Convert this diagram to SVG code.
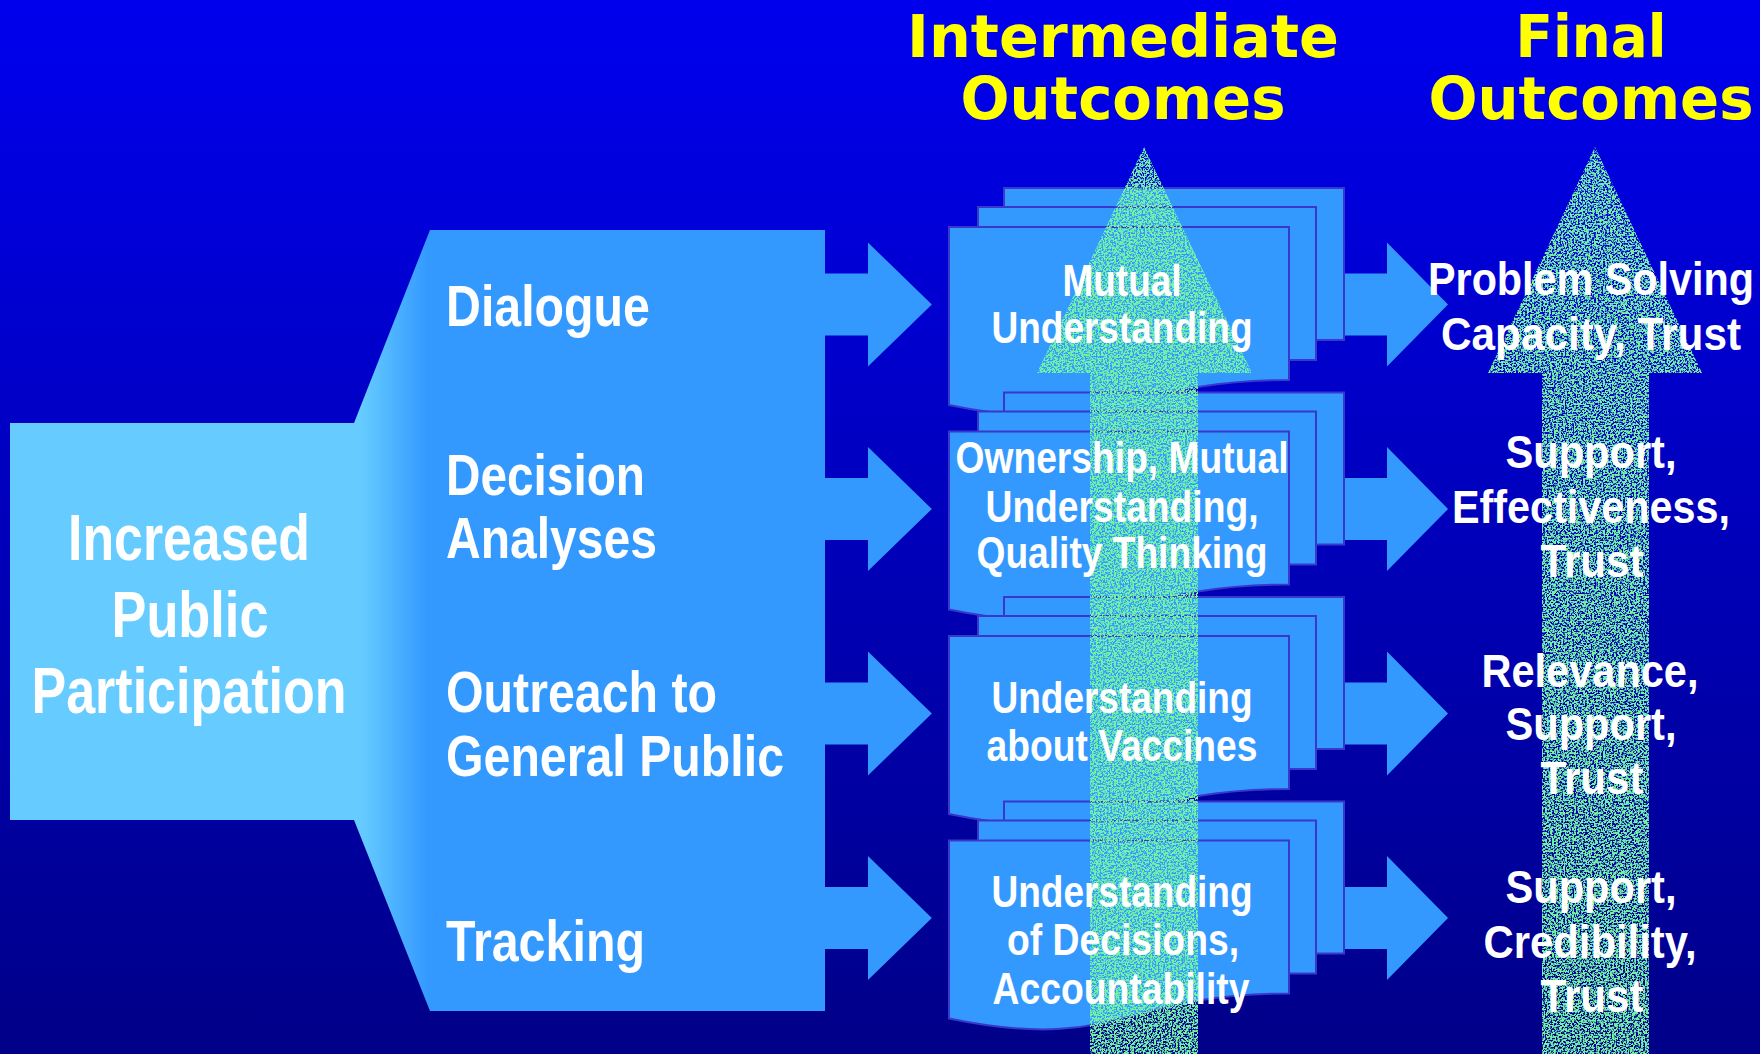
<svg xmlns="http://www.w3.org/2000/svg" width="1760" height="1054" viewBox="0 0 1760 1054">
<defs>
  <linearGradient id="bg" x1="0" y1="0" x2="0" y2="1054" gradientUnits="userSpaceOnUse">
    <stop offset="0" stop-color="#0000EE"/>
    <stop offset="1" stop-color="#000088"/>
  </linearGradient>
  <linearGradient id="mainFill" x1="0" y1="0" x2="1760" y2="0" gradientUnits="userSpaceOnUse">
    <stop offset="0.205" stop-color="#66CCFF"/>
    <stop offset="0.243" stop-color="#3399FF"/>
  </linearGradient>
  <filter id="speckle" x="0" y="0" width="1" height="1" color-interpolation-filters="sRGB">
    <feTurbulence type="fractalNoise" baseFrequency="0.55" numOctaves="2" seed="11" result="n"/>
    <feColorMatrix in="n" type="matrix" values="0 0 0 0 0.45  0 0 0 0 0.95  0 0 0 0 0.65  7 0 0 0 -2.8" result="g"/>
    <feComposite in="g" in2="SourceAlpha" operator="in"/>
  </filter>
  <g id="multidoc">
    <rect x="1004" y="188" width="340" height="152" class="sheet"/>
    <rect x="978" y="207" width="338" height="153" class="sheet"/>
    <path d="M949,227 H1289 V380 C1119,380 1119,440 949,405 Z" class="sheet"/>
  </g>
  <path id="rarrow" d="M0,-31 H42 V-62 L103,0 L42,62 V31 H0 Z"/>
</defs>
<style>
  .sheet { fill:#3399FF; stroke:#3838CC; stroke-width:2; }
  .conn { fill:#3399FF; }
  .t { font-family:"Liberation Sans Narrow","Liberation Sans",Arial,sans-serif; font-weight:bold; fill:#FFFFFF; }
  .title { font-family:"DejaVu Sans",Verdana,sans-serif; font-weight:bold; fill:#FFFF00; font-size:59px; text-anchor:middle; }
  .lft { font-size:64px; text-anchor:middle; }
  .mid { font-size:57px; }
  .doc { font-size:44px; text-anchor:middle; }
  .fin { font-size:46px; text-anchor:middle; }
  .big { fill:#000; filter:url(#speckle); }
</style>

<rect x="0" y="0" width="1760" height="1054" fill="url(#bg)"/>

<g id="titles">
  <text class="title" x="1123" y="57" textLength="432" lengthAdjust="spacingAndGlyphs">Intermediate</text>
  <text class="title" x="1123" y="119" textLength="325" lengthAdjust="spacingAndGlyphs">Outcomes</text>
  <text class="title" x="1591" y="57" textLength="151" lengthAdjust="spacingAndGlyphs">Final</text>
  <text class="title" x="1591" y="119" textLength="325" lengthAdjust="spacingAndGlyphs">Outcomes</text>
</g>

<g id="participation-block">
  <path d="M10,423 H354 L430,230 H825 V1011 H430 L354,820 H10 Z" fill="url(#mainFill)"/>
</g>

<g id="increased-public-participation">
  <text class="t lft" x="189" y="560" textLength="242" lengthAdjust="spacingAndGlyphs">Increased</text>
  <text class="t lft" x="190" y="637" textLength="157" lengthAdjust="spacingAndGlyphs">Public</text>
  <text class="t lft" x="189" y="713" textLength="315" lengthAdjust="spacingAndGlyphs">Participation</text>
</g>

<g id="dialogue">
  <text class="t mid" x="446" y="326" textLength="204" lengthAdjust="spacingAndGlyphs">Dialogue</text>
</g>
<g id="decision-analyses">
  <text class="t mid" x="446" y="495" textLength="199" lengthAdjust="spacingAndGlyphs">Decision</text>
  <text class="t mid" x="446" y="558" textLength="211" lengthAdjust="spacingAndGlyphs">Analyses</text>
</g>
<g id="outreach">
  <text class="t mid" x="446" y="712" textLength="271" lengthAdjust="spacingAndGlyphs">Outreach to</text>
  <text class="t mid" x="446" y="776" textLength="338" lengthAdjust="spacingAndGlyphs">General Public</text>
</g>
<g id="tracking">
  <text class="t mid" x="446" y="961" textLength="199" lengthAdjust="spacingAndGlyphs">Tracking</text>
</g>

<g id="intermediate-1-shape"><use href="#multidoc"/></g>
<g id="intermediate-2-shape"><use href="#multidoc" transform="translate(0,204.5)"/></g>
<g id="intermediate-3-shape"><use href="#multidoc" transform="translate(0,409)"/></g>
<g id="intermediate-4-shape"><use href="#multidoc" transform="translate(0,613.5)"/></g>

<g id="connectors">
  <use href="#rarrow" class="conn" transform="translate(824,304.5) scale(1.047,1)"/>
  <use href="#rarrow" class="conn" transform="translate(824,509) scale(1.047,1)"/>
  <use href="#rarrow" class="conn" transform="translate(824,713.5) scale(1.047,1)"/>
  <use href="#rarrow" class="conn" transform="translate(824,918) scale(1.047,1)"/>
  <use href="#rarrow" class="conn" transform="translate(1345,304.5)"/>
  <use href="#rarrow" class="conn" transform="translate(1345,509)"/>
  <use href="#rarrow" class="conn" transform="translate(1345,713.5)"/>
  <use href="#rarrow" class="conn" transform="translate(1345,918)"/>
</g>

<g id="intermediate-arrow">
  <path class="big" d="M1144,147 L1252,373 L1198,373 L1198,1054 L1090,1054 L1090,373 L1037,373 Z"/>
</g>
<g id="final-arrow">
  <path class="big" d="M1595,147 L1702,373 L1649,373 L1649,1054 L1542,1054 L1542,373 L1488,373 Z"/>
</g>

<g id="intermediate-1">
  <text class="t doc" x="1122" y="296" textLength="119" lengthAdjust="spacingAndGlyphs">Mutual</text>
  <text class="t doc" x="1122" y="343" textLength="261" lengthAdjust="spacingAndGlyphs">Understanding</text>
</g>
<g id="intermediate-2">
  <text class="t doc" x="1122" y="473" textLength="333" lengthAdjust="spacingAndGlyphs">Ownership, Mutual</text>
  <text class="t doc" x="1122" y="522" textLength="273" lengthAdjust="spacingAndGlyphs">Understanding,</text>
  <text class="t doc" x="1122" y="568" textLength="291" lengthAdjust="spacingAndGlyphs">Quality Thinking</text>
</g>
<g id="intermediate-3">
  <text class="t doc" x="1122" y="713" textLength="261" lengthAdjust="spacingAndGlyphs">Understanding</text>
  <text class="t doc" x="1122" y="761" textLength="271" lengthAdjust="spacingAndGlyphs">about Vaccines</text>
</g>
<g id="intermediate-4">
  <text class="t doc" x="1122" y="907" textLength="261" lengthAdjust="spacingAndGlyphs">Understanding</text>
  <text class="t doc" x="1123" y="955" textLength="232" lengthAdjust="spacingAndGlyphs">of Decisions,</text>
  <text class="t doc" x="1121" y="1004" textLength="257" lengthAdjust="spacingAndGlyphs">Accountability</text>
</g>

<g id="final-1">
  <text class="t fin" x="1591" y="295" textLength="326" lengthAdjust="spacingAndGlyphs">Problem Solving</text>
  <text class="t fin" x="1591" y="350" textLength="300" lengthAdjust="spacingAndGlyphs">Capacity, Trust</text>
</g>
<g id="final-2">
  <text class="t fin" x="1591" y="468" textLength="171" lengthAdjust="spacingAndGlyphs">Support,</text>
  <text class="t fin" x="1591" y="523" textLength="278" lengthAdjust="spacingAndGlyphs">Effectiveness,</text>
  <text class="t fin" x="1592" y="577" textLength="103" lengthAdjust="spacingAndGlyphs">Trust</text>
</g>
<g id="final-3">
  <text class="t fin" x="1590" y="687" textLength="217" lengthAdjust="spacingAndGlyphs">Relevance,</text>
  <text class="t fin" x="1591" y="740" textLength="171" lengthAdjust="spacingAndGlyphs">Support,</text>
  <text class="t fin" x="1592" y="794" textLength="103" lengthAdjust="spacingAndGlyphs">Trust</text>
</g>
<g id="final-4">
  <text class="t fin" x="1591" y="903" textLength="171" lengthAdjust="spacingAndGlyphs">Support,</text>
  <text class="t fin" x="1590" y="958" textLength="213" lengthAdjust="spacingAndGlyphs">Credibility,</text>
  <text class="t fin" x="1592" y="1012" textLength="103" lengthAdjust="spacingAndGlyphs">Trust</text>
</g>
</svg>
